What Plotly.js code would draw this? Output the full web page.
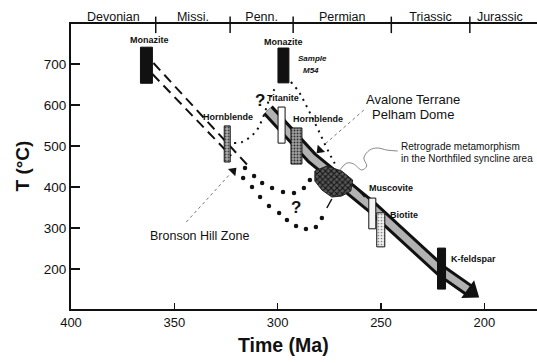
<!DOCTYPE html>
<html>
<head>
<meta charset="utf-8">
<script src="https://cdn.plot.ly/plotly-3.0.1.min.js"></script>
<style>
  html, body { margin: 0; padding: 0; background: #fff; }
  #chart { width: 537px; height: 363px; }
</style>
</head>
<body>
<div id="chart"></div>
<script>
// Geological periods shown along the top edge (Ma)
const periodNames = ['Devonian', 'Missi.', 'Penn.', 'Permian', 'Triassic', 'Jurassic'];
const periodStart = [400, 359, 323, 292.5, 245, 207];
const periodEnd   = [359, 323, 292.5, 245, 207, 178];

// Mineral ages (Ma) and temperature ranges (°C)
const mineralNames = ['Monazite', 'Hornblende', 'Monazite', 'Titanite', 'Hornblende', 'Muscovite', 'Biotite', 'K-feldspar'];
const mineralAge   = [363.5, 324.4, 297.2, 298.1, 290.9, 254.2, 250.1, 220.7];
const mineralTmin  = [653, 461, 654, 507, 456, 298, 254, 151];
const mineralTmax  = [741, 549, 739, 595, 544, 373, 337, 251];

// Avalone terrane / Pelham dome cooling path
const pelhamAge = [304.7, 283.4, 254.5, 220.7, 206.2];
const pelhamT   = [587.8, 470.7, 351.2, 195.1, 143.9];

// Retrograde metamorphism field (Northfield syncline)
const retroAge = [282.0, 276.2, 269.0, 263.7, 264.6, 269.0, 273.8, 278.6, 282.0, 282.0];
const retroT   = [439.0, 451.2, 439.0, 417.1, 390.2, 378.0, 375.6, 392.7, 414.6, 439.0];

// Bronson Hill zone paths (double dashed)
const bronsonAAge = [360.1, 313.3];
const bronsonAT   = [702.4, 446.3];
const bronsonBAge = [360.6, 322.5];
const bronsonBT   = [675.6, 475.6];

// Uncertain continuations (large dots)
const dotsUpperAge = [315.8, 311.4, 307.5, 302.7, 297.4, 292.1, 287.3, 284.4];
const dotsUpperT   = [446.3, 426.8, 409.8, 397.6, 387.8, 385.4, 397.6, 417.1];
const dotsLowerAge = [316.7, 312.4, 308.5, 304.2, 299.3, 295.5, 291.1, 286.3, 281.5, 278.6];
const dotsLowerT   = [422.0, 400.0, 375.6, 353.7, 336.6, 319.5, 304.9, 297.6, 302.4, 324.4];
const lowerLinkAge = [276.2, 273.8];
const lowerLinkT   = [348.8, 370.7];

// Fine dotted paths from sample M54
const m54LeftAge  = [321.1, 317.2, 313.3, 310.0, 308.0, 306.1, 304.7, 302.7, 300.8];
const m54LeftT    = [507.3, 509.8, 522.0, 539.0, 558.5, 582.9, 604.9, 626.8, 646.3];
const m54RightAge = [293.6, 289.7, 286.8, 283.4, 280.1, 276.7, 273.8, 271.4];
const m54RightT   = [656.1, 631.7, 604.9, 570.7, 536.6, 500.0, 470.7, 448.8];

// Leader lines
const avaloneLeadAge = [258.3, 277.6];
const avaloneLeadT   = [587.8, 502.4];
const avaloneTipAge = 279.6, avaloneTipT = 490.2;
const bronsonLeadAge = [344.2, 323.0];
const bronsonLeadT   = [314.6, 431.7];
const bronsonTipAge = 321.5, bronsonTipT = 439.0;
const retroLeadAge = [241.9, 247.3, 251.6, 255.5, 258.3, 256.9, 259.3, 263.2, 266.5, 269.9];
const retroLeadT   = [487.8, 490.2, 495.1, 490.2, 470.7, 451.2, 441.5, 456.1, 458.5, 441.5];
const muscLeadAge = [263.2, 257.9];
const muscLeadT   = [404.9, 375.6];

// ---- styling ----
const FONT = 'Arial, "Liberation Sans", sans-serif';
const INK = '#111';
const mineralWidth = [5.8, 2.9, 5.3, 3.4, 5.3, 3.4, 3.9, 3.9];
const mineralFill  = ['#111', '#9c9c9c', '#111', '#ffffff', '#8e8e8e', '#f4f4f4', '#e2e2e2', '#111'];
const mineralPattern = [null, {shape: '.', fgcolor: '#444', bgcolor: '#b0b0b0', size: 3, solidity: 0.35},
  null, null, {shape: '.', fgcolor: '#333', bgcolor: '#a2a2a2', size: 3, solidity: 0.35},
  null, {shape: '.', fgcolor: '#888', bgcolor: '#f0f0f0', size: 3, solidity: 0.25}, null];

const traces = [];

// cooling band: black outline + grey core
traces.push({x: pelhamAge, y: pelhamT, mode: 'lines', line: {color: INK, width: 13}, hoverinfo: 'skip'});
traces.push({x: pelhamAge, y: pelhamT, mode: 'lines', line: {color: '#b2b2b2', width: 7}, hoverinfo: 'skip'});
traces.push({x: [pelhamAge[pelhamAge.length - 1]], y: [pelhamT[pelhamT.length - 1]], mode: 'markers',
  marker: {symbol: 'triangle-up', size: 19, color: INK, angle: 126, line: {width: 0}}, hoverinfo: 'skip'});

// Bronson Hill double dashed paths
[[bronsonAAge, bronsonAT], [bronsonBAge, bronsonBT]].forEach(([xa, ya]) => {
  traces.push({x: xa, y: ya, mode: 'lines', line: {color: INK, width: 2, dash: '10px,6px'}, hoverinfo: 'skip'});
});

// fine dotted paths
[[m54LeftAge, m54LeftT], [m54RightAge, m54RightT]].forEach(([xa, ya]) => {
  traces.push({x: xa, y: ya, mode: 'lines', line: {color: INK, width: 2, dash: '2px,5px', shape: 'spline'}, hoverinfo: 'skip'});
});

// large dotted uncertain paths
[[dotsUpperAge, dotsUpperT], [dotsLowerAge, dotsLowerT]].forEach(([xa, ya]) => {
  traces.push({x: xa, y: ya, mode: 'markers', marker: {size: 4.5, color: INK}, hoverinfo: 'skip'});
});
traces.push({x: lowerLinkAge, y: lowerLinkT, mode: 'lines', line: {color: INK, width: 1.5}, hoverinfo: 'skip'});

// leader lines
traces.push({x: avaloneLeadAge, y: avaloneLeadT, mode: 'lines', line: {color: '#777', width: 1, dash: 'dot'}, hoverinfo: 'skip'});
traces.push({x: bronsonLeadAge, y: bronsonLeadT, mode: 'lines', line: {color: '#777', width: 1, dash: 'dot'}, hoverinfo: 'skip'});
traces.push({x: retroLeadAge, y: retroLeadT, mode: 'lines', line: {color: '#888', width: 1, shape: 'spline'}, hoverinfo: 'skip'});
traces.push({x: muscLeadAge, y: muscLeadT, mode: 'lines', line: {color: INK, width: 1.3}, hoverinfo: 'skip'});
traces.push({x: [avaloneTipAge, bronsonTipAge], y: [avaloneTipT, bronsonTipT], mode: 'markers',
  marker: {symbol: 'triangle-up', size: 9, color: INK, angle: [225, 45]}, hoverinfo: 'skip'});

// retrograde field
traces.push({x: retroAge, y: retroT, mode: 'lines', fill: 'toself', fillcolor: '#3a3a3a',
  fillpattern: {shape: 'x', fgcolor: '#111', bgcolor: '#585858', size: 4, solidity: 0.45},
  line: {color: '#222', width: 1}, hoverinfo: 'skip'});

// mineral age boxes
mineralNames.forEach((name, i) => {
  const a0 = mineralAge[i] - mineralWidth[i] / 2, a1 = mineralAge[i] + mineralWidth[i] / 2;
  const t = {
    x: [a0, a1, a1, a0, a0],
    y: [mineralTmin[i], mineralTmin[i], mineralTmax[i], mineralTmax[i], mineralTmin[i]],
    mode: 'lines', fill: 'toself', fillcolor: mineralFill[i],
    line: {color: INK, width: 1}, hoverinfo: 'skip', name: name
  };
  if (mineralPattern[i]) t.fillpattern = mineralPattern[i];
  traces.push(t);
});

// carrier for the period axis
const periodMid = periodStart.map((s, i) => (s + periodEnd[i]) / 2);
traces.push({x: periodMid, y: periodMid.map(() => null), xaxis: 'x2', mode: 'markers', hoverinfo: 'skip'});

// ---- annotations ----
const txt = (text, x, y, size, opts = {}) => Object.assign({
  text: text, x: x, y: y, xref: 'x', yref: 'y', showarrow: false,
  xanchor: 'center', yanchor: 'middle', font: {family: FONT, size: size, color: INK}
}, opts);

const annotations = [
  txt('<b>Monazite</b>', 362.1, 758.5, 9),
  txt('<b>Hornblende</b>', 324.0, 570.7, 9),
  txt('<b>Monazite</b>', 297.4, 754.0, 9),
  txt('<b><i>Sample</i></b>', 291.1, 714.6, 8, {xanchor: 'left'}),
  txt('<b><i>M54</i></b>', 288.7, 685.4, 8, {xanchor: 'left'}),
  txt('<b>Titanite</b>', 297.4, 617.0, 9),
  txt('<b>Hornblende</b>', 280.3, 565.9, 9),
  txt('<b>Muscovite</b>', 256.9, 397.6, 9, {xanchor: 'left'}),
  txt('<b>Biotite</b>', 246.8, 331.7, 9, {xanchor: 'left'}),
  txt('<b>K-feldspar</b>', 217.3, 224.4, 9, {xanchor: 'left'}),
  txt('Avalone Terrane', 234.7, 614.6, 13),
  txt('Pelham Dome', 234.7, 578.0, 13),
  txt('Retrograde metamorphism', 241.5, 500.0, 10, {xanchor: 'left'}),
  txt('in the Northfiled syncline area', 241.5, 470.7, 10, {xanchor: 'left'}),
  txt('Bronson Hill Zone', 337.9, 280.5, 12.5),
  txt('<b>?</b>', 308.5, 609.8, 17),
  txt('<b>?</b>', 291.1, 348.8, 17),
  {text: '<b>Time (Ma)</b>', xref: 'paper', yref: 'paper', x: 0.457, y: -0.126,
   xanchor: 'center', yanchor: 'middle', showarrow: false, font: {family: FONT, size: 19.5, color: INK}},
  {text: '<b>T (°C)</b>', xref: 'paper', yref: 'paper', x: 0, y: 0.5, xshift: -49,
   xanchor: 'center', yanchor: 'middle', textangle: -90, showarrow: false,
   font: {family: FONT, size: 19, color: INK}}
];

// boundary ticks on the top axis
const shapes = periodStart.slice(1).map(b => ({
  type: 'line', xref: 'x', yref: 'paper', x0: b, x1: b, y0: 0.968, y1: 1.026,
  line: {color: INK, width: 1.5}
}));

const xRange = [400, 174.5];
const layout = {
  width: 537, height: 363,
  margin: {l: 71, r: 0, t: 24, b: 54},
  paper_bgcolor: '#fff', plot_bgcolor: '#fff',
  showlegend: false, hovermode: false,
  font: {family: FONT, color: INK},
  xaxis: {
    range: xRange, tickvals: [400, 350, 300, 250, 200],
    ticks: 'inside', ticklen: 6, tickwidth: 1.5, tickcolor: INK,
    showline: true, linewidth: 2, linecolor: INK, mirror: true,
    showgrid: false, zeroline: false,
    tickfont: {family: FONT, size: 13, color: INK}
  },
  xaxis2: {
    overlaying: 'x', side: 'top', anchor: 'y', range: xRange,
    tickvals: periodMid, ticktext: periodNames, ticks: '',
    showline: false, showgrid: false, zeroline: false,
    tickfont: {family: FONT, size: 12.5, color: INK}
  },
  yaxis: {
    range: [102.4, 797.6], tickvals: [200, 300, 400, 500, 600, 700],
    ticks: 'inside', ticklen: 9, tickwidth: 1.5, tickcolor: INK,
    showline: true, linewidth: 2, linecolor: INK, mirror: false,
    showgrid: false, zeroline: false,
    tickfont: {family: FONT, size: 13.5, color: INK}
  },
  annotations: annotations,
  shapes: shapes
};

Plotly.newPlot('chart', traces, layout, {staticPlot: true, displayModeBar: false});
</script>
</body>
</html>
